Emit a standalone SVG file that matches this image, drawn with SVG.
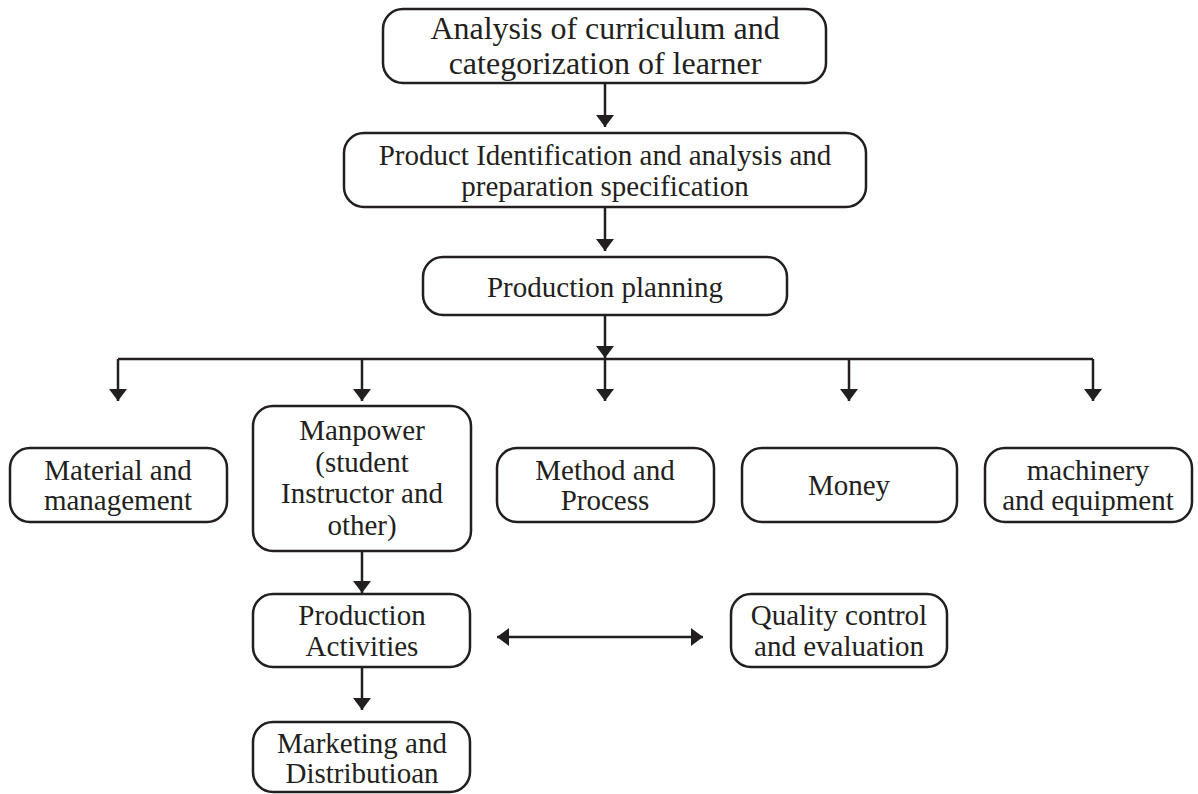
<svg xmlns="http://www.w3.org/2000/svg" width="1198" height="794" viewBox="0 0 1198 794">
<style>
.box{fill:#fff;stroke:#231f20;stroke-width:2.5}
.t{font-family:"Liberation Serif","Times New Roman",serif;font-size:29px;fill:#231f20;text-anchor:middle}
.t1{font-size:32px}
.c{stroke:#231f20;stroke-width:2.5;fill:none}
</style>
<defs>
<marker id="ah" viewBox="0 0 12 18" refX="12" refY="9" markerWidth="12" markerHeight="18" markerUnits="userSpaceOnUse" orient="auto">
<path d="M0,0 L12,9 L0,18 z" fill="#231f20"/>
</marker>
<marker id="ahs" viewBox="0 0 12 18" refX="0" refY="9" markerWidth="12" markerHeight="18" markerUnits="userSpaceOnUse" orient="auto">
<path d="M12,0 L0,9 L12,18 z" fill="#231f20"/>
</marker>
</defs>
<g id="connectors">
<path class="c" d="M605,83 V127" marker-end="url(#ah)"/>
<path class="c" d="M605,207 V251" marker-end="url(#ah)"/>
<path class="c" d="M605,315 V358" marker-end="url(#ah)"/>
<path class="c" d="M118,359 H1093"/>
<path class="c" d="M118,359 V401" marker-end="url(#ah)"/>
<path class="c" d="M362,359 V401" marker-end="url(#ah)"/>
<path class="c" d="M605,359 V401" marker-end="url(#ah)"/>
<path class="c" d="M849,359 V401" marker-end="url(#ah)"/>
<path class="c" d="M1093,359 V401" marker-end="url(#ah)"/>
<path class="c" d="M362,551 V593" marker-end="url(#ah)"/>
<path class="c" d="M362,667 V710" marker-end="url(#ah)"/>
<path class="c" d="M497,637 H703" marker-start="url(#ahs)" marker-end="url(#ah)"/>
</g>
<g id="n1"><rect class="box" x="383" y="9" width="443" height="74" rx="20"/>
<text class="t t1" x="605" y="39">Analysis of curriculum and</text>
<text class="t t1" x="605" y="74">categorization of learner</text></g>
<g id="n2"><rect class="box" x="344" y="133" width="522" height="74" rx="20"/>
<text class="t" x="605" y="165">Product Identification and analysis and</text>
<text class="t" x="605" y="196">preparation specification</text></g>
<g id="n3"><rect class="box" x="423" y="257" width="364" height="58" rx="20"/>
<text class="t" x="605" y="297">Production planning</text></g>
<g id="n4"><rect class="box" x="10" y="448" width="217" height="74" rx="20"/>
<text class="t" x="118" y="480">Material and</text>
<text class="t" x="118" y="510">management</text></g>
<g id="n5"><rect class="box" x="253" y="406" width="218" height="145" rx="20"/>
<text class="t" x="362" y="440">Manpower</text>
<text class="t" x="362" y="472">(student</text>
<text class="t" x="362" y="503">Instructor and</text>
<text class="t" x="362" y="535">other)</text></g>
<g id="n6"><rect class="box" x="497" y="448" width="217" height="74" rx="20"/>
<text class="t" x="605" y="480">Method and</text>
<text class="t" x="605" y="510">Process</text></g>
<g id="n7"><rect class="box" x="742" y="448" width="215" height="74" rx="20"/>
<text class="t" x="849" y="495">Money</text></g>
<g id="n8"><rect class="box" x="985" y="448" width="207" height="74" rx="20"/>
<text class="t" x="1088" y="480">machinery</text>
<text class="t" x="1088" y="510">and equipment</text></g>
<g id="n9"><rect class="box" x="253" y="594" width="217" height="73" rx="20"/>
<text class="t" x="362" y="625">Production</text>
<text class="t" x="362" y="656">Activities</text></g>
<g id="n10"><rect class="box" x="731" y="594" width="216" height="73" rx="20"/>
<text class="t" x="839" y="625">Quality control</text>
<text class="t" x="839" y="656">and evaluation</text></g>
<g id="n11"><rect class="box" x="253" y="722" width="217" height="70" rx="20"/>
<text class="t" x="362" y="753">Marketing and</text>
<text class="t" x="362" y="783">Distributioan</text></g>
</svg>
